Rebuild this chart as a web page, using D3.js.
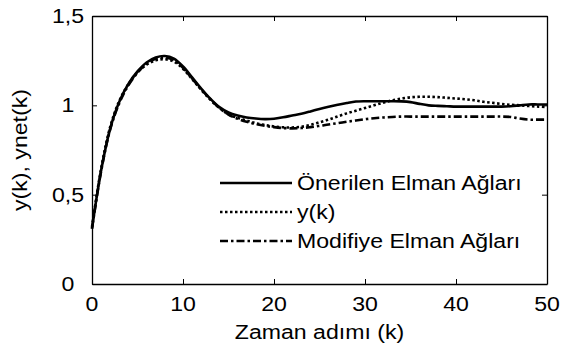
<!DOCTYPE html>
<html>
<head>
<meta charset="utf-8">
<script src="https://cdn.jsdelivr.net/npm/d3@7"></script>
<style>
  html, body { margin: 0; padding: 0; background: #fff; }
  svg { display: block; font-family: 'Liberation Sans', Arial, sans-serif; }
</style>
</head>
<body>
<div id="chart"></div>
<script>
// k = 0..50
const steps = d3.range(0, 51)

const onerilen = [
  0.31, 0.635, 0.87, 1.02, 1.12, 1.19, 1.24, 1.268, 1.276, 1.262,
  1.218, 1.157, 1.094, 1.037, 0.99, 0.96, 0.943, 0.932, 0.926, 0.923,
  0.925, 0.933, 0.943, 0.953, 0.966, 0.98, 0.992, 1.003, 1.013, 1.021,
  1.023, 1.023, 1.023, 1.023, 1.022, 1.018, 1.008, 1.0, 0.997, 0.995,
  0.993, 0.993, 0.993, 0.993, 0.993, 0.993, 0.995, 1.0, 1.005, 1.005,
  1.005,
]

const yk = [
  0.32, 0.645, 0.88, 1.025, 1.118, 1.185, 1.228, 1.252, 1.258, 1.245,
  1.205, 1.147, 1.087, 1.032, 0.985, 0.95, 0.93, 0.915, 0.9, 0.89,
  0.882, 0.877, 0.876, 0.88, 0.89, 0.905, 0.92, 0.938, 0.955, 0.97,
  0.985, 1.0, 1.015, 1.028, 1.038, 1.045, 1.048, 1.048, 1.046, 1.042,
  1.038, 1.034, 1.028, 1.02, 1.014, 1.008, 1.003, 1.0, 0.996, 0.993,
  0.99,
]

const modifiye = [
  0.31, 0.63, 0.865, 1.012, 1.112, 1.183, 1.233, 1.26, 1.267, 1.252,
  1.21, 1.15, 1.09, 1.035, 0.985, 0.948, 0.925, 0.908, 0.895, 0.885,
  0.878, 0.873, 0.871, 0.873, 0.878, 0.885, 0.893, 0.9, 0.908, 0.915,
  0.922, 0.928, 0.932, 0.935, 0.937, 0.937, 0.937, 0.937, 0.937, 0.937,
  0.937, 0.937, 0.937, 0.937, 0.937, 0.937, 0.935, 0.926, 0.92, 0.92,
  0.92,
]

const xTicks = [0, 10, 20, 30, 40, 50]
const yTicks = [0, 0.5, 1, 1.5]
const yTickLabels = ['0', '0,5', '1', '1,5']

const series = [
  { name: 'Önerilen Elman Ağları', values: onerilen, dash: 'none' },
  { name: 'y(k)', values: yk, dash: '2.5,2.5' },
  { name: 'Modifiye Elman Ağları', values: modifiye, dash: '8,3,2.5,3' },
]

const width = 566
const height = 350
const margin = { top: 16, right: 19, bottom: 66, left: 92 }
const innerW = width - margin.left - margin.right
const innerH = height - margin.top - margin.bottom
const stretch = 1.1 // reference text is a little wider than Liberation Sans

const svg = d3.select('#chart')
  .append('svg')
  .attr('width', width)
  .attr('height', height)

const g = svg.append('g')
  .attr('transform', `translate(${margin.left},${margin.top})`)

const x = d3.scaleLinear().domain([0, 50]).range([0, innerW])
const y = d3.scaleLinear().domain([0, 1.5]).range([innerH, 0])

function label(parent, tx, ty, txt, anchor = 'middle', rotate = 0) {
  return parent.append('text')
    .attr('transform', `translate(${tx},${ty}) rotate(${rotate}) scale(${stretch},1)`)
    .attr('text-anchor', anchor)
    .attr('font-size', '21px')
    .attr('fill', '#000')
    .text(txt)
}

// Lines
const line = d3.line()
  .x((d, i) => x(steps[i]))
  .y(d => y(d))
  .curve(d3.curveCatmullRom)

g.append('g')
  .selectAll('path')
  .data(series)
  .join('path')
  .attr('d', d => line(d.values))
  .attr('fill', 'none')
  .attr('stroke', '#000')
  .attr('stroke-width', 2.6)
  .attr('stroke-dasharray', d => d.dash)

// Axes — ticks inside, box on all four sides
const tickLen = 5
g.append('g')
  .attr('transform', `translate(0,${innerH})`)
  .call(d3.axisBottom(x).tickValues(xTicks).tickSize(-tickLen).tickSizeOuter(0).tickFormat(''))
g.append('g')
  .call(d3.axisTop(x).tickValues(xTicks).tickSize(-tickLen).tickSizeOuter(0).tickFormat(''))
g.append('g')
  .call(d3.axisLeft(y).tickValues(yTicks).tickSize(-tickLen).tickSizeOuter(0).tickFormat(''))
g.append('g')
  .attr('transform', `translate(${innerW},0)`)
  .call(d3.axisRight(y).tickValues(yTicks).tickSize(-tickLen).tickSizeOuter(0).tickFormat(''))

g.selectAll('.domain').attr('stroke', '#000').attr('stroke-width', 1.3)
g.selectAll('.tick line').attr('stroke', '#000').attr('stroke-width', 1)

// Tick labels
xTicks.forEach(d => label(g, x(d), innerH + 27, d))
yTicks.forEach((d, i) => label(g, -24, y(d) + 7, yTickLabels[i]))

// Axis titles
label(svg, margin.left + innerW / 2, 339, 'Zaman adımı (k)')
label(svg, 27, margin.top + innerH / 2, 'y(k), ynet(k)', 'middle', -90)

// Legend
const legend = svg.append('g')
  .selectAll('g')
  .data(series)
  .join('g')
  .attr('transform', (d, i) => `translate(220,${183 + i * 29})`)

legend.append('line')
  .attr('x1', 0)
  .attr('x2', 72)
  .attr('stroke', '#000')
  .attr('stroke-width', 2.6)
  .attr('stroke-dasharray', d => d.dash)

legend.each(function (d) {
  label(d3.select(this), 77, 7, d.name, 'start')
})
</script>
</body>
</html>
